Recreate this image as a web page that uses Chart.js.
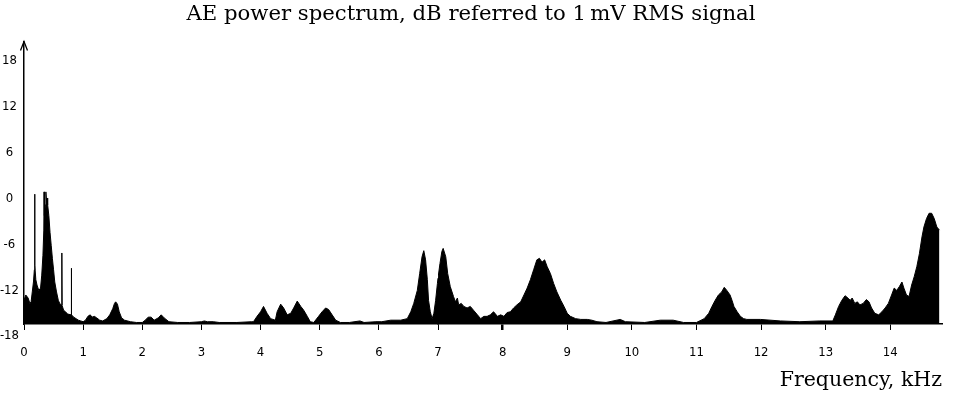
<!DOCTYPE html>
<html><head><meta charset="utf-8">
<script src="https://cdn.jsdelivr.net/npm/chart.js@4.4.1/dist/chart.umd.min.js"></script>
<style>html,body{margin:0;padding:0;background:#fff;}canvas{display:block;}</style>
</head><body>
<canvas id="c" width="953" height="400"></canvas>
<script>
// Frequency (kHz) and level (dB re 1 mV RMS)
const freqKHz = [
 0.00,0.03,0.07,0.10,0.12,0.14,0.16,0.175,0.18,0.185,0.20,0.22,0.25,0.28,0.30,0.32,0.335,0.34,0.345,0.36,
 0.37,0.38,0.39,0.40,0.42,0.44,0.46,0.48,0.50,0.52,0.55,0.58,0.61,0.635,0.64,0.645,0.67,0.70,0.74,0.795,
 0.80,0.805,0.84,0.88,0.92,0.96,1.00,1.04,1.08,1.12,1.15,1.19,1.23,1.28,1.33,1.40,1.45,1.50,1.53,1.55,
 1.58,1.61,1.65,1.70,1.80,1.90,2.00,2.05,2.10,2.15,2.20,2.27,2.32,2.37,2.45,2.60,2.80,3.00,3.05,3.10,
 3.20,3.30,3.60,3.85,3.88,3.94,4.00,4.05,4.11,4.17,4.25,4.28,4.34,4.39,4.45,4.51,4.56,4.62,4.68,4.73,
 4.79,4.84,4.90,4.98,5.04,5.10,5.15,5.21,5.27,5.35,5.50,5.68,5.75,5.95,6.05,6.20,6.37,6.48,6.54,6.59,
 6.65,6.69,6.73,6.76,6.79,6.82,6.84,6.87,6.90,6.93,6.96,6.99,7.00,7.03,7.06,7.08,7.12,7.15,7.19,7.24,
 7.27,7.30,7.32,7.36,7.40,7.45,7.50,7.55,7.61,7.66,7.71,7.76,7.81,7.86,7.92,7.97,8.02,8.07,8.12,8.17,
 8.22,8.28,8.33,8.38,8.43,8.48,8.53,8.57,8.61,8.65,8.69,8.74,8.79,8.84,8.90,8.95,9.00,9.05,9.13,9.21,
 9.31,9.38,9.46,9.60,9.82,9.90,10.20,10.44,10.64,10.80,11.00,11.12,11.19,11.24,11.29,11.34,11.39,11.43,11.47,11.52,
 11.55,11.58,11.63,11.68,11.73,11.78,11.99,12.30,12.60,12.91,13.11,13.15,13.20,13.25,13.30,13.33,13.38,13.41,13.45,13.49,
 13.53,13.58,13.63,13.67,13.71,13.76,13.82,13.87,13.92,13.97,14.02,14.06,14.10,14.14,14.18,14.21,14.25,14.29,14.33,14.37,
 14.41,14.45,14.49,14.52,14.56,14.60,14.64,14.68,14.72,14.76
];
const levelDb = [
 -14.9,-14.2,-14.6,-15.3,-15.1,-13.8,-12.5,-10.9,-1.0,-10.3,-12.2,-12.9,-13.6,-13.3,-11.6,-9.0,-5.7,-0.7,-3.8,-2.4,
 -0.7,-1.8,-1.5,-2.4,-3.8,-6.0,-7.7,-9.4,-10.9,-12.5,-13.8,-14.9,-15.4,-15.5,-8.7,-15.6,-16.2,-16.4,-16.7,-16.8,
 -10.7,-16.8,-17.1,-17.3,-17.5,-17.6,-17.7,-17.5,-17.0,-16.8,-17.1,-17.0,-17.2,-17.5,-17.6,-17.3,-16.8,-16.0,-15.3,-15.1,
 -15.4,-16.4,-17.2,-17.5,-17.7,-17.8,-17.8,-17.5,-17.1,-17.1,-17.5,-17.2,-16.8,-17.2,-17.7,-17.8,-17.8,-17.7,-17.6,-17.7,
 -17.7,-17.8,-17.8,-17.7,-17.7,-17.0,-16.4,-15.7,-16.6,-17.3,-17.5,-16.4,-15.4,-15.9,-16.8,-16.6,-15.9,-15.0,-15.7,-16.2,
 -17.0,-17.7,-17.8,-17.0,-16.4,-15.9,-16.1,-16.8,-17.5,-17.8,-17.8,-17.6,-17.8,-17.7,-17.7,-17.5,-17.5,-17.3,-16.4,-15.3,
 -13.6,-11.4,-9.2,-8.4,-9.6,-12.2,-14.9,-16.4,-17.3,-16.6,-14.9,-12.7,-12.0,-10.1,-8.5,-8.1,-9.2,-11.4,-13.1,-14.4,
 -15.1,-14.6,-15.5,-15.3,-15.7,-15.9,-15.7,-16.2,-16.8,-17.3,-17.0,-17.0,-16.8,-16.4,-17.0,-16.8,-17.0,-16.5,-16.4,-15.9,
 -15.5,-15.1,-14.2,-13.3,-12.2,-10.9,-9.6,-9.4,-9.9,-9.6,-10.5,-11.4,-12.7,-13.8,-14.9,-15.7,-16.6,-17.0,-17.3,-17.4,
 -17.4,-17.5,-17.7,-17.8,-17.4,-17.7,-17.8,-17.5,-17.5,-17.8,-17.8,-17.3,-16.6,-15.7,-14.9,-14.2,-13.8,-13.2,-13.6,-14.2,
 -14.9,-15.7,-16.4,-17.0,-17.3,-17.4,-17.4,-17.6,-17.7,-17.6,-17.6,-16.8,-15.7,-14.9,-14.3,-14.5,-14.9,-14.6,-15.3,-15.1,
 -15.5,-15.3,-14.8,-15.1,-15.9,-16.6,-16.8,-16.4,-15.9,-15.3,-14.2,-13.3,-13.6,-13.1,-12.5,-13.3,-14.2,-14.4,-12.9,-11.8,
 -10.5,-8.8,-6.6,-5.3,-4.2,-3.5,-3.5,-4.2,-5.3,-5.7
];
const xTicksLow = [0,1,2,3,4,5,6];
const xTicksHigh = [7,8,9,10,11,12,13,14];
const yTickValues = [-18,-12,-6,0,6,12,18];
const splitKHz = 7;

const ptsA = [], ptsB = [];
freqKHz.forEach((f, i) => {
  if (f <= splitKHz) ptsA.push({x: f, y: levelDb[i]});
  if (f >= splitKHz) ptsB.push({x: f, y: levelDb[i]});
});

const tickFont = {family: '"Liberation Sans Narrow","DejaVu Sans Condensed","Liberation Sans",sans-serif', size: 13};
const serif = '"DejaVu Serif", serif';

function xAxis(min, max, weight, ticks, withTitle) {
  return {
    type: 'linear', position: 'bottom', stack: 'freq', stackWeight: weight, min: min, max: max, offset: false,
    afterBuildTicks: s => { s.ticks = ticks.map(v => ({value: v})); },
    afterFit: s => { s.height = 76; },
    grid: {display: true, drawOnChartArea: false, drawTicks: true, tickLength: 6, color: '#000',
           lineWidth: c => (c.tick && c.tick.value === 8 ? 2.5 : 1)},
    border: {display: true, color: '#000', width: 1.5},
    ticks: {color: '#000', font: tickFont, padding: 15, maxRotation: 0, minRotation: 0, autoSkip: false,
            callback: v => String(v)},
    title: {display: withTitle, text: 'Frequency, kHz', align: 'end', color: '#000',
            font: {family: serif, size: 20.5, weight: 'normal'}, padding: {top: 0, bottom: 7}}
  };
}

const arrowPlugin = {
  id: 'yArrow',
  afterDraw(chart) {
    const {ctx, chartArea} = chart;
    const x = chartArea.left, y = chartArea.top;
    ctx.save();
    ctx.strokeStyle = '#000';
    ctx.lineWidth = 1.3;
    ctx.beginPath();
    ctx.moveTo(x - 3.5, y + 9);
    ctx.lineTo(x, y);
    ctx.lineTo(x + 3.5, y + 9);
    ctx.stroke();
    ctx.restore();
  }
};

const common = {borderColor: '#000', backgroundColor: '#000', borderWidth: 1, pointRadius: 0,
                fill: 'start', tension: 0, yAxisID: 'y'};

new Chart(document.getElementById('c'), {
  type: 'line',
  data: {datasets: [
    Object.assign({label: 'low', data: ptsA, xAxisID: 'xA'}, common),
    Object.assign({label: 'high', data: ptsB, xAxisID: 'xB'}, common)
  ]},
  options: {
    responsive: false, animation: false, devicePixelRatio: 1,
    layout: {padding: {left: 0, right: 11, top: 0, bottom: 0}},
    plugins: {
      legend: {display: false}, tooltip: {enabled: false},
      title: {display: true, text: 'AE power spectrum, dB referred to 1\u2009mV RMS signal', color: '#000',
              font: {family: serif, size: 21.2, weight: 'normal'}, padding: {top: 2, bottom: 14}}
    },
    scales: {
      xA: xAxis(0, splitKHz, 414, xTicksLow, false),
      xB: xAxis(splitKHz, 14.8, 504, xTicksHigh, true),
      y: {
        type: 'linear', position: 'left', min: -18, max: 19,
        afterBuildTicks: s => { s.ticks = yTickValues.map(v => ({value: v})); },
        afterFit: s => { s.width = 24; },
        grid: {display: false, drawTicks: false},
        border: {display: true, color: '#000', width: 1.5},
        ticks: {color: '#000', font: tickFont, padding: 5, labelOffset: 12, crossAlign: 'center',
                callback: v => String(v)}
      }
    }
  },
  plugins: [arrowPlugin]
});
</script>
</body></html>
